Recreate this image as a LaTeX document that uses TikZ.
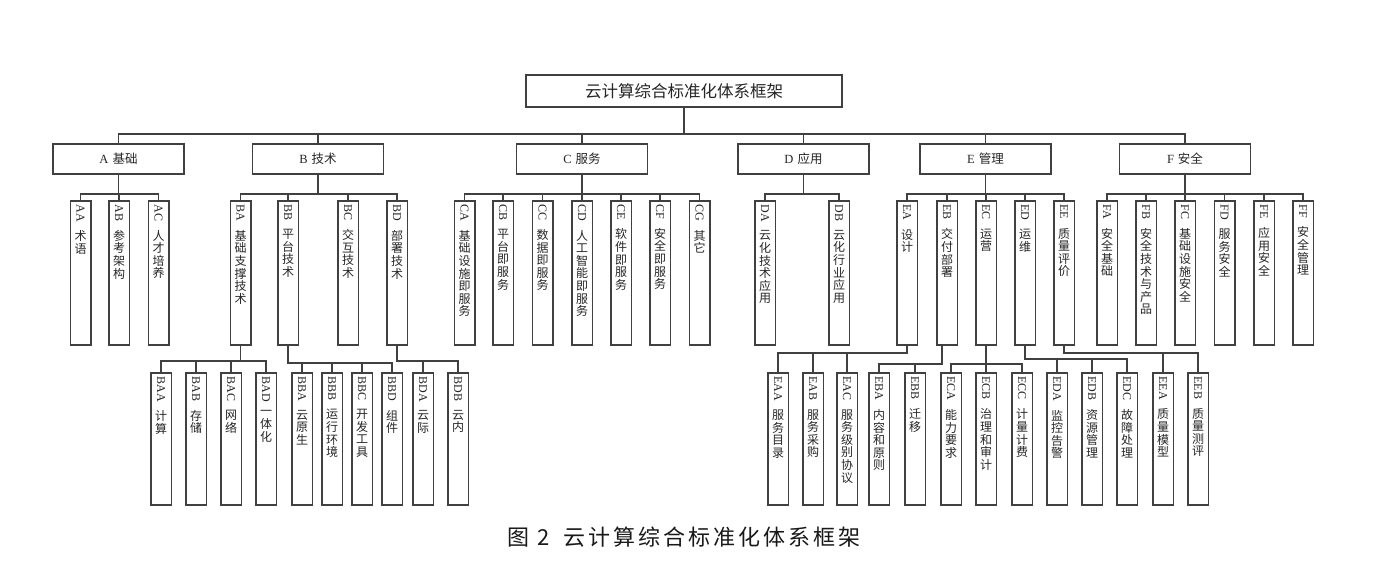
\documentclass[tikz,border=0pt]{standalone}
\usepackage{fontspec}
\setmainfont{Liberation Serif}
\newfontfamily\cjk{Noto Sans CJK SC}
\usepackage{graphicx}
\makeatletter
\def\vsaux#1{\ifx\relax#1\else\hbox to 14pt{\hss#1\hss}\expandafter\vsaux\fi}
\newcommand\leaftext[2]{\vbox{\baselineskip=12.6pt\lineskiplimit=-\maxdimen
  \hbox to 14pt{\hss\rotatebox{-90}{#1}\hss}\kern 9pt\nointerlineskip
  \cjk\vsaux#2\relax}}
\def\spacedaux#1{\ifx\relax#1\else#1\hspace{3pt}\expandafter\spacedaux\fi}
\newcommand\spacedtext[1]{\spacedaux#1\relax\unskip}
\makeatother
\tikzset{
  conn/.style={draw=black!75, line width=1.5pt},
  topbox/.style={draw=black!75, line width=1.5pt, minimum width=316pt, minimum height=32pt, inner sep=0pt, font=\cjk\fontsize{16.5}{18}\selectfont, text=black!85},
  catbox/.style={draw=black!75, line width=1.5pt, minimum width=131pt, minimum height=30pt, inner sep=0pt, font=\fontsize{12.5}{14}\selectfont, text=black!85},
  leafbox/.style={draw=black!75, line width=1.5pt, minimum width=20.5pt, minimum height=144pt, inner sep=0pt},
  subleafbox/.style={leafbox, minimum height=132pt},
  ltext/.style={inner sep=0pt, anchor=north, font=\fontsize{12}{12.6}\selectfont, text=black!85},
  captext/.style={inner sep=0pt, font=\cjk\fontsize{22}{24}\selectfont, text=black!90}
}
\newcommand\mkleaf[3]{%
  \node[leafbox] (#1) at (#2,273) {};
  \node[ltext] (#1t) at ([yshift=-4pt]#1.north) {\leaftext{#1}{#3}};}
\newcommand\mksubleaf[3]{%
  \node[subleafbox] (#1) at (#2,439) {};
  \node[ltext] (#1t) at ([yshift=-4pt]#1.north) {\leaftext{#1}{#3}};}
\begin{document}
\begin{tikzpicture}[x=1pt,y=-1pt]
\useasboundingbox[fill=white] (0,0) rectangle (1394,579);
% root
\node[topbox] (root) at (684,91) {云计算综合标准化体系框架};
% level 1
\node[catbox] (A) at (118.5,159) {A\hspace{4pt}{\cjk 基础}};
\node[catbox] (B) at (318,159) {B\hspace{4pt}{\cjk 技术}};
\node[catbox] (C) at (582,159) {C\hspace{4pt}{\cjk 服务}};
\node[catbox] (D) at (803.5,159) {D\hspace{4pt}{\cjk 应用}};
\node[catbox] (E) at (985.5,159) {E\hspace{4pt}{\cjk 管理}};
\node[catbox] (F) at (1185,159) {F\hspace{4pt}{\cjk 安全}};
% level 2
\mkleaf{AA}{80.5}{术语}
\mkleaf{AB}{119}{参考架构}
\mkleaf{AC}{158.5}{人才培养}
\mkleaf{BA}{240.5}{基础支撑技术}
\mkleaf{BB}{288}{平台技术}
\mkleaf{BC}{348}{交互技术}
\mkleaf{BD}{397}{部署技术}
\mkleaf{CA}{464.5}{基础设施即服务}
\mkleaf{CB}{503}{平台即服务}
\mkleaf{CC}{542.5}{数据即服务}
\mkleaf{CD}{582}{人工智能即服务}
\mkleaf{CE}{621}{软件即服务}
\mkleaf{CF}{660}{安全即服务}
\mkleaf{CG}{699.5}{其它}
\mkleaf{DA}{765}{云化技术应用}
\mkleaf{DB}{839}{云化行业应用}
\mkleaf{EA}{907}{设计}
\mkleaf{EB}{947}{交付部署}
\mkleaf{EC}{986}{运营}
\mkleaf{ED}{1025}{运维}
\mkleaf{EE}{1064}{质量评价}
\mkleaf{FA}{1107}{安全基础}
\mkleaf{FB}{1146}{安全技术与产品}
\mkleaf{FC}{1185}{基础设施安全}
\mkleaf{FD}{1224.5}{服务安全}
\mkleaf{FE}{1264}{应用安全}
\mkleaf{FF}{1303}{安全管理}
% level 3
\mksubleaf{BAA}{161}{计算}
\mksubleaf{BAB}{196}{存储}
\mksubleaf{BAC}{231}{网络}
\mksubleaf{BAD}{266}{一体化}
\mksubleaf{BBA}{302}{云原生}
\mksubleaf{BBB}{332}{运行环境}
\mksubleaf{BBC}{362}{开发工具}
\mksubleaf{BBD}{392}{组件}
\mksubleaf{BDA}{423}{云际}
\mksubleaf{BDB}{458}{云内}
\mksubleaf{EAA}{778}{服务目录}
\mksubleaf{EAB}{813}{服务采购}
\mksubleaf{EAC}{847}{服务级别协议}
\mksubleaf{EBA}{879}{内容和原则}
\mksubleaf{EBB}{915}{迁移}
\mksubleaf{ECA}{951}{能力要求}
\mksubleaf{ECB}{986}{治理和审计}
\mksubleaf{ECC}{1022}{计量计费}
\mksubleaf{EDA}{1057}{监控告警}
\mksubleaf{EDB}{1092}{资源管理}
\mksubleaf{EDC}{1127}{故障处理}
\mksubleaf{EEA}{1163}{质量模型}
\mksubleaf{EEB}{1198}{质量测评}
% connectors
\foreach \c in {A,B,C,D,E,F} \draw[conn] (root.south) -- ++(0,26) -| (\c.north);
\foreach \c in {AA,AB,AC} \draw[conn] (A.south) -- ++(0,19) -| (\c.north);
\foreach \c in {BA,BB,BC,BD} \draw[conn] (B.south) -- ++(0,19) -| (\c.north);
\foreach \c in {CA,CB,CC,CD,CE,CF,CG} \draw[conn] (C.south) -- ++(0,19) -| (\c.north);
\foreach \c in {DA,DB} \draw[conn] (D.south) -- ++(0,19) -| (\c.north);
\foreach \c in {EA,EB,EC,ED,EE} \draw[conn] (E.south) -- ++(0,19) -| (\c.north);
\foreach \c in {FA,FB,FC,FD,FE,FF} \draw[conn] (F.south) -- ++(0,19) -| (\c.north);
\foreach \c in {BAA,BAB,BAC,BAD} \draw[conn] (BA.south) -- ++(0,15) -| (\c.north);
\foreach \c in {BBA,BBB,BBC,BBD} \draw[conn] (BB.south) -- ++(0,17) -| (\c.north);
\foreach \c in {BDA,BDB} \draw[conn] (BD.south) -- ++(0,15) -| (\c.north);
\foreach \c in {EAA,EAB,EAC} \draw[conn] (EA.south) -- ++(0,7) -| (\c.north);
\foreach \c in {EBA,EBB} \draw[conn] ([xshift=-5pt]EB.south) -- ++(0,18) -| (\c.north);
\foreach \c in {ECA,ECB,ECC} \draw[conn] (EC.south) -- ++(0,18) -| (\c.north);
\foreach \c in {EDA,EDB,EDC} \draw[conn] (ED.south) -- ++(0,13) -| (\c.north);
\foreach \c in {EEA,EEB} \draw[conn] (EE.south) -- ++(0,7) -| (\c.north);
% caption
\node[captext] (cap) at (684,537) {图\hspace{8pt}2\hspace{13pt}\spacedtext{云计算综合标准化体系框架}};
\end{tikzpicture}
\end{document}
